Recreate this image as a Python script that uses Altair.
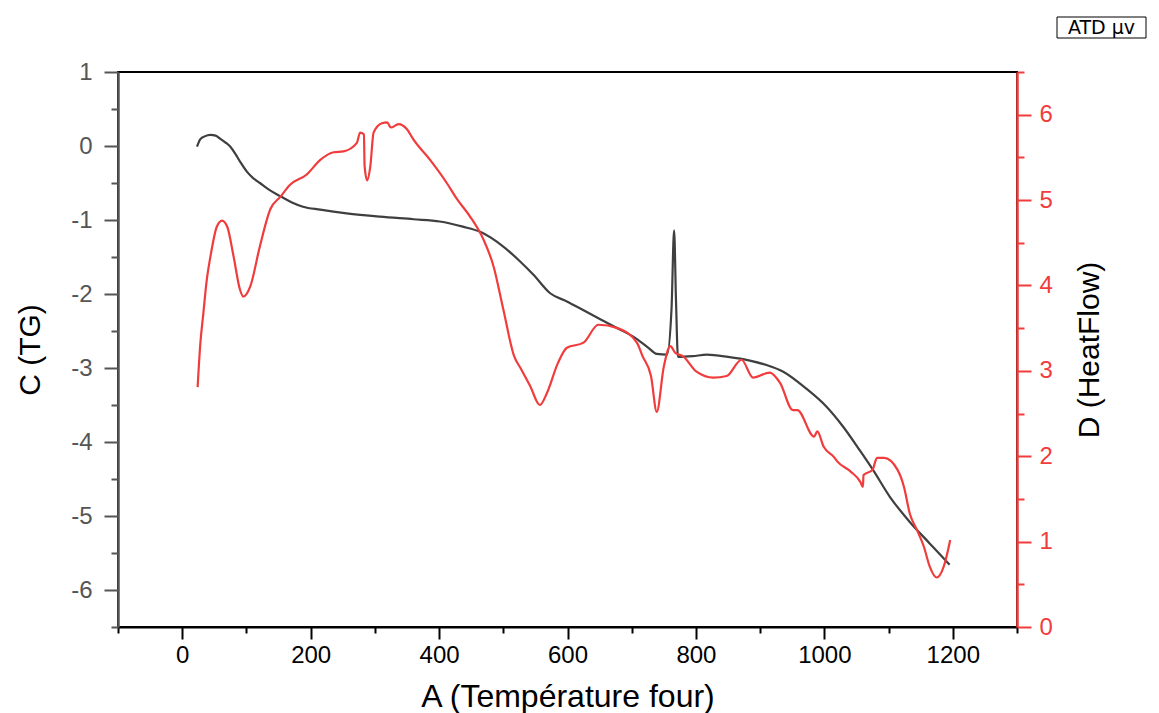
import altair as alt
import pandas as pd

# TG curve (left axis)
tg_T = [23, 28, 35, 44, 52, 59, 67, 75, 83, 90, 101, 110, 121, 135, 153, 170, 188, 215, 256,
        308, 360, 401, 437, 464, 500, 525, 547, 573, 599, 625, 651, 677, 703, 725, 739, 755,
        762, 766, 769, 772, 795, 817, 850, 884, 910, 936, 972, 1003, 1029, 1055, 1076, 1102,
        1133, 1164, 1195]
tg_v = [-0.01, 0.09, 0.13, 0.15, 0.14, 0.10, 0.05, -0.01, -0.11, -0.21, -0.35, -0.43, -0.50,
        -0.59, -0.68, -0.76, -0.82, -0.86, -0.91, -0.955, -0.99, -1.02, -1.09, -1.16, -1.36,
        -1.55, -1.74, -1.99, -2.10, -2.22, -2.34, -2.46, -2.58, -2.72, -2.81, -2.82, -2.2,
        -1.14, -2.1, -2.85, -2.84, -2.82, -2.85, -2.90, -2.96, -3.05, -3.28, -3.52, -3.79,
        -4.11, -4.38, -4.74, -5.08, -5.37, -5.66]

# Heat flow curve (right axis)
hf_T = [24, 28, 33, 38, 44, 54, 62, 70, 80, 90, 95, 106, 121, 137, 153, 168, 194, 215, 236,
        251, 272, 277, 283, 284, 288, 293, 298, 311, 319, 325, 337, 350, 360, 386, 412, 428,
        448, 469, 485, 500, 517, 527, 542, 557, 568, 585, 599, 625, 648, 678, 708, 717, 730,
        739, 750, 760, 768, 780, 801, 827, 848, 871, 889, 915, 931, 951, 958, 984, 989, 999,
        1015, 1020, 1041, 1056, 1060, 1061, 1075, 1082, 1093, 1114, 1124, 1133, 1144, 1155,
        1164, 1175, 1186, 1196]
hf_d = [2.81, 3.3, 3.68, 4.05, 4.34, 4.69, 4.76, 4.69, 4.34, 3.95, 3.87, 3.99, 4.46, 4.89,
        5.04, 5.18, 5.30, 5.47, 5.56, 5.57, 5.67, 5.79, 5.77, 5.40, 5.23, 5.40, 5.79, 5.90,
        5.91, 5.85, 5.89, 5.83, 5.71, 5.47, 5.20, 5.01, 4.81, 4.54, 4.22, 3.72, 3.17, 3.03,
        2.82, 2.60, 2.74, 3.09, 3.27, 3.33, 3.54, 3.50, 3.33, 3.17, 2.94, 2.52, 3.05, 3.29,
        3.21, 3.17, 2.99, 2.92, 2.94, 3.13, 2.92, 2.98, 2.86, 2.54, 2.54, 2.23, 2.29, 2.11,
        1.99, 1.94, 1.82, 1.70, 1.64, 1.78, 1.84, 1.98, 1.98, 1.84, 1.64, 1.33, 1.14, 0.94,
        0.71, 0.58, 0.71, 1.02]

x_ticks = list(range(-100, 1301, 100))
left_ticks = [v / 2 for v in range(-13, 3)]
right_ticks = [v / 2 for v in range(0, 14)]
legend_label = ["ATD μv"]

tg = pd.DataFrame({"T": tg_T, "TG": tg_v})
hf = pd.DataFrame({"T": hf_T, "HF": hf_d})
box = pd.DataFrame({"label": legend_label})

FONT = "Liberation Sans"
RED = "#f03c3c"
GRAY = "#555555"
W, H = 899, 555

x_enc = alt.X(
    "T:Q",
    scale=alt.Scale(domain=[-100, 1300], nice=False, zero=False),
    axis=alt.Axis(
        values=x_ticks,
        labelExpr="(datum.value % 200 == 0 && datum.value >= 0 && datum.value <= 1200) ? '' + datum.value : ''",
        title="A (Température four)",
        grid=False,
        domainColor="black", domainWidth=2,
        tickColor="black", tickWidth=2,
        tickSize={"condition": {"test": "datum.value % 200 == 0", "value": 12}, "value": 6},
        labelColor="black", labelFont=FONT, labelFontSize=24, labelPadding=4,
        labelOverlap=False, labelFlush=False,
        titleFont=FONT, titleFontSize=32, titleFontWeight="normal", titleColor="black",
        titlePadding=14,
    ),
)

tg_line = alt.Chart(tg).mark_line(color="#3f3f3f", strokeWidth=2.2, interpolate="monotone").encode(
    x=x_enc,
    y=alt.Y(
        "TG:Q",
        scale=alt.Scale(domain=[-6.5, 1], nice=False, zero=False),
        axis=alt.Axis(
            orient="left",
            values=left_ticks,
            labelExpr="datum.value % 1 == 0 ? '' + datum.value : ''",
            title="C (TG)",
            grid=False,
            domainColor=GRAY, domainWidth=2.5,
            tickColor=GRAY, tickWidth=2,
            tickSize={"condition": {"test": "datum.value % 1 == 0", "value": 14}, "value": 7},
            labelColor=GRAY, labelFont=FONT, labelFontSize=24, labelPadding=12,
            labelOverlap=False, labelFlush=False,
            titleFont=FONT, titleFontSize=30, titleFontWeight="normal", titleColor="black",
            titlePadding=25,
        ),
    ),
)

hf_line = alt.Chart(hf).mark_line(color=RED, strokeWidth=2.2, interpolate="monotone").encode(
    x=alt.X("T:Q"),
    y=alt.Y(
        "HF:Q",
        scale=alt.Scale(domain=[0, 6.5], nice=False, zero=False),
        axis=alt.Axis(
            orient="right",
            values=right_ticks,
            labelExpr="datum.value % 1 == 0 ? '' + datum.value : ''",
            title="D (HeatFlow)",
            titleAngle=270,
            titleBaseline="top",
            grid=False,
            domainColor=RED, domainWidth=2.5,
            tickColor=RED, tickWidth=2,
            tickSize={"condition": {"test": "datum.value % 1 == 0", "value": 14}, "value": 7},
            labelColor=RED, labelFont=FONT, labelFontSize=24, labelPadding=8,
            labelOverlap=False, labelFlush=False,
            titleFont=FONT, titleFontSize=30, titleFontWeight="normal", titleColor="black",
            titlePadding=22,
        ),
    ),
)

box_rect = alt.Chart(box).mark_rect(fill="white", stroke="black", strokeWidth=1).encode(
    x=alt.value(939), x2=alt.value(1028), y=alt.value(-55), y2=alt.value(-34)
)
box_text = alt.Chart(box).mark_text(font="DejaVu Sans", fontSize=19, color="black").encode(
    x=alt.value(983.5), y=alt.value(-44.5), text="label:N"
)

chart = (
    alt.layer(tg_line, hf_line, box_rect, box_text)
    .resolve_scale(y="independent")
    .properties(
        width=W,
        height=H,
        autosize=alt.AutoSizeParams(type="none"),
        padding={"left": 118, "top": 72, "right": 142, "bottom": 86},
        background="white",
    )
    .configure_view(stroke="black", strokeWidth=2)
)

chart.save("out.html", embed_options={"renderer": "svg", "actions": False})
